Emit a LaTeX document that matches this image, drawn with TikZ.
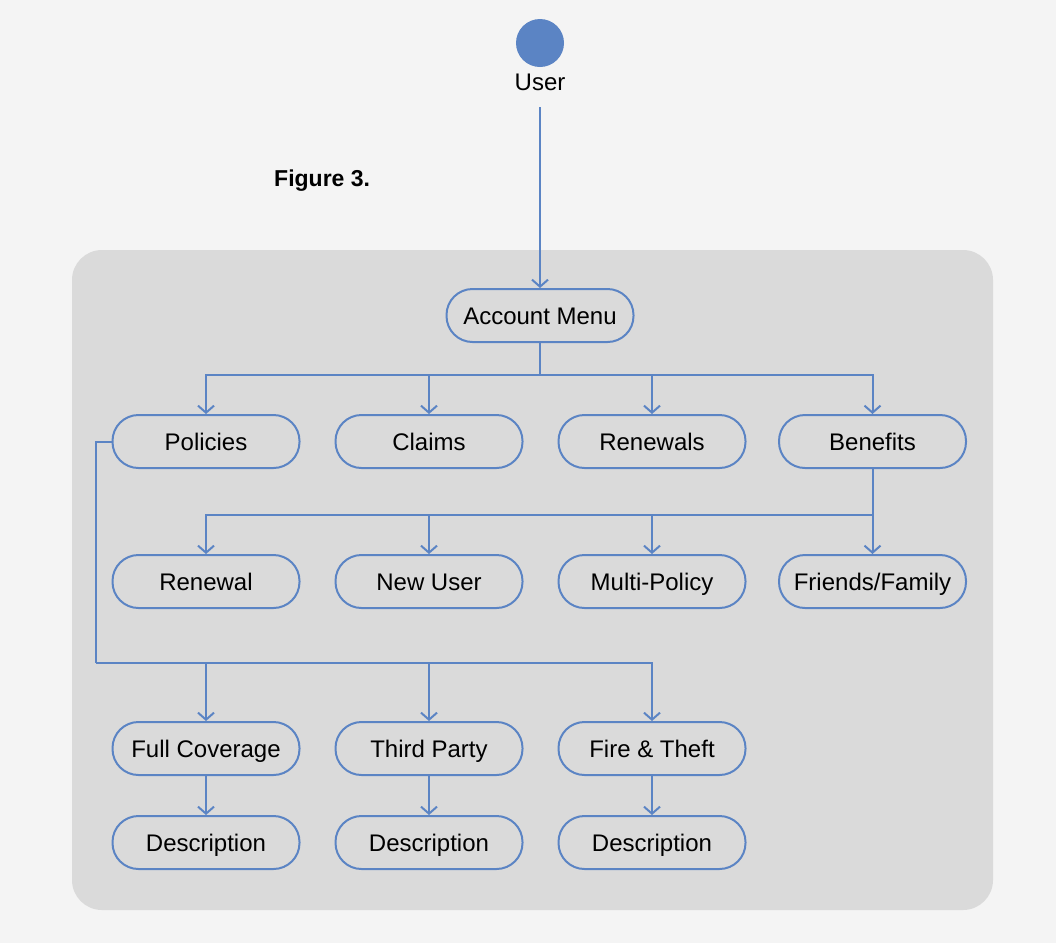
\documentclass[tikz,border=0pt]{standalone}
\usepackage{fontspec}
\setmainfont{Liberation Sans}
\usetikzlibrary{arrows.meta}
\definecolor{bgc}{HTML}{F4F4F4}
\definecolor{panel}{HTML}{DADADA}
\definecolor{blu}{HTML}{5B84C4}
\begin{document}
\begin{tikzpicture}[x=1pt,y=-1pt,
  pill/.style={draw=blu, line width=2pt, fill=panel, rounded corners=26pt,
    minimum width=187pt, minimum height=53pt, inner sep=0pt,
    text height=17pt, text depth=0pt,
    font=\fontsize{24}{28}\selectfont},
  conn/.style={draw=blu, line width=2pt},
  arr/.style={conn, -{Straight Barb[length=7pt,width=16pt,line width=2pt]}}]
\useasboundingbox (0,0) rectangle (1056,943);
\fill[bgc] (0,0) rectangle (1056,943);
\fill[panel, rounded corners=30pt] (72,250) rectangle (993,910);

\node[circle, fill=blu, minimum size=48pt, inner sep=0pt] (uc) at (540,43) {};
\node[minimum height=50pt, inner sep=0pt, text height=17pt, text depth=0pt,
  font=\fontsize{24}{28}\selectfont] (ut) at (540,82) {User};
\node[anchor=west, inner sep=0pt, text height=17pt, text depth=0pt,
  font=\fontsize{23}{28}\selectfont\bfseries] (fig) at (274,178) {Figure 3.};

\node[pill] (acct) at (540,315.5) {Account Menu};

\node[pill] (pol) at (206,441.5) {Policies};
\node[pill] (cla) at (429,441.5) {Claims};
\node[pill] (ren) at (652,441.5) {Renewals};
\node[pill] (ben) at (872.5,441.5) {Benefits};

\node[pill] (rnw) at (206,581.5) {Renewal};
\node[pill] (new) at (429,581.5) {New User};
\node[pill] (mul) at (652,581.5) {Multi-Policy};
\node[pill] (fri) at (872.5,581.5) {Friends/Family};

\node[pill] (ful) at (206,748.5) {Full Coverage};
\node[pill] (thi) at (429,748.5) {Third Party};
\node[pill] (fir) at (652,748.5) {Fire \& Theft};

\node[pill] (d1) at (206,842.5) {Description};
\node[pill] (d2) at (429,842.5) {Description};
\node[pill] (d3) at (652,842.5) {Description};

\draw[arr] (ut) -- (acct);

\draw[conn] (acct.south) -- (540,375) coordinate (j1);
\draw[arr] (j1) -| (pol.north);
\draw[arr] (j1) -| (cla.north);
\draw[arr] (j1) -| (ren.north);
\draw[arr] (j1) -| (ben.north);

\draw[conn] (ben.south) -- (872.5,515) coordinate (j2);
\draw[arr] (j2) -| (rnw.north);
\draw[arr] (j2) -| (new.north);
\draw[arr] (j2) -| (mul.north);
\draw[arr] (j2) -- (fri.north);

\draw[conn] (pol.west) -| (96,663) coordinate (j3);
\draw[arr] (j3) -| (ful.north);
\draw[arr] (j3) -| (thi.north);
\draw[arr] (j3) -| (fir.north);

\draw[arr] (ful) -- (d1);
\draw[arr] (thi) -- (d2);
\draw[arr] (fir) -- (d3);
\end{tikzpicture}
\end{document}
